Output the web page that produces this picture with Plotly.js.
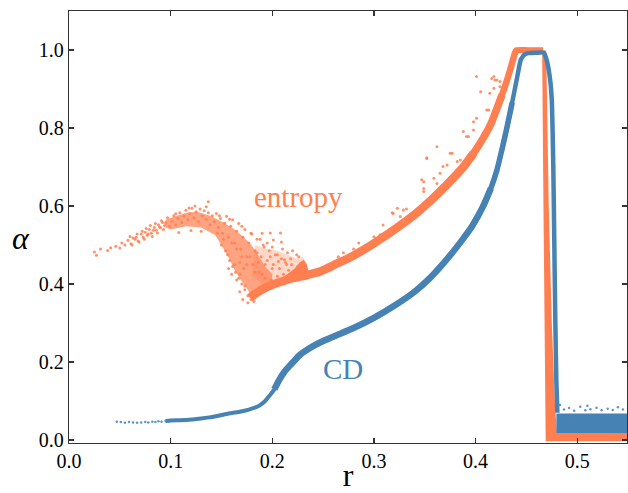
<!DOCTYPE html>
<html><head><meta charset="utf-8">
<script src="https://cdn.plot.ly/plotly-3.0.1.min.js"></script>
<style>
html,body{margin:0;padding:0;background:#fff}
#chart{width:628px;height:493px}
#chart text{font-family:'Liberation Serif','Times New Roman',serif !important}
</style>
</head><body><div id="chart"></div>
<script>
// ---------- data ----------
// entropy: main band (lower, middle and upper parts)
const entBandR = [0.178,0.185,0.193,0.200,0.210,0.220,0.230,0.237,0.247,0.260,0.275,0.290,0.305,0.323,0.340,0.355,0.370,0.388,0.398];
const entBandA = [0.365,0.378,0.390,0.398,0.407,0.415,0.420,0.425,0.432,0.448,0.466,0.488,0.513,0.545,0.578,0.612,0.650,0.700,0.735];
const entMidR = [0.388,0.398,0.407,0.415,0.421,0.426];
const entMidA = [0.700,0.735,0.772,0.810,0.850,0.885];
const entUpR = [0.415,0.421,0.426,0.431,0.435,0.4385,0.440,0.452,0.4665];
const entUpA = [0.810,0.850,0.885,0.923,0.958,0.990,0.999,0.999,0.999];
// entropy: drop and floor (outline of the dense region)
const entDropR = [0.4655,0.4695,0.4720,0.4750,0.4780,0.4800,0.549,0.549,0.4690,0.4680,0.4668];
const entDropA = [0.999,0.999,0.600,0.300,0.100,0.018,0.018,-0.003,-0.003,0.300,0.600];
// entropy: dense cloud (outline)
const entCloudR = [0.095,0.105,0.115,0.126,0.139,0.152,0.163,0.172,0.180,0.187,0.193,0.200,0.200,0.190,0.180,0.176,0.169,0.163,0.157,0.151,0.144,0.130,0.115,0.100,0.095];
const entCloudA = [0.565,0.575,0.583,0.585,0.575,0.558,0.540,0.520,0.498,0.470,0.445,0.425,0.400,0.387,0.367,0.385,0.410,0.436,0.468,0.495,0.525,0.545,0.548,0.540,0.545];
// entropy: thinner cloud (outline)
const entHazeR = [0.183,0.195,0.205,0.215,0.225,0.230,0.235,0.220,0.205,0.190,0.180];
const entHazeA = [0.500,0.490,0.485,0.475,0.465,0.470,0.440,0.425,0.410,0.400,0.420];
// entropy: bump on the band (outline)
const entSpikeR = [0.212,0.222,0.227,0.231,0.234,0.236,0.236,0.220];
const entSpikeA = [0.420,0.440,0.455,0.462,0.450,0.430,0.418,0.410];
// entropy: scattered points
const entPtsR = [0.025,0.027,0.031,0.038,0.041,0.046,0.050,0.052,0.055,0.058,0.061,0.063,0.066,0.068,0.071,0.073,0.075,0.077,0.079,0.081,0.084,0.086,0.088,0.090,0.092,0.094,
 0.060,0.062,0.065,0.067,0.069,0.072,0.074,0.076,0.078,0.080,0.082,0.083,0.085,0.087,0.089,0.091,0.093,0.095,0.097,0.099,0.101,0.103,0.105,0.107,0.109,0.111,0.113,0.115,0.117,0.119,0.121,0.123,0.125,0.127,0.129,0.131,0.133,0.135,0.137,0.139,0.141,0.143,0.145,0.147,0.149,0.151,0.153,0.155,0.157,0.159,0.161,0.163,0.165,0.167,0.169,0.171,0.173,0.175,0.177,0.179,0.181,0.183,0.185,0.187,0.189,0.191,0.193,0.195,0.197,0.199,0.201,0.203,0.205,0.207,0.209,0.211,0.213,0.216,0.219,0.222,0.225,
 0.150,0.154,0.158,0.161,0.164,0.167,0.170,0.173,0.176,0.179,0.156,0.152,0.146,0.168,
 0.105,0.118,0.124,0.135,0.137,0.130,0.120,0.108,0.148,0.158,0.170,0.180,
 0.190,0.198,0.208,0.201,0.209,0.188,0.195,0.200,0.210,0.215,0.220,0.224,0.205,0.212,0.218,0.226,0.192,0.185,0.198,0.206,0.214,0.186,0.193,0.200,0.183,0.190,0.175,0.170,0.165,0.160,0.178,0.172,0.168,
 0.171,0.176,0.168,0.173,0.165,0.160,0.157,0.182,0.163,
 0.265,0.270,0.280,0.285,
 0.300,0.301,0.306,0.309,0.318,0.319,0.323,0.326,0.329,0.332,0.347,0.349,0.349,0.349,0.352,0.352,0.359,0.362,0.362,0.365,0.368,0.372,0.375,0.377,0.382,0.385,0.388,0.391,0.393,0.398,0.398,0.401,0.401,0.405,0.411,0.413,0.414,0.416,0.418,0.418,0.419,0.421,0.424,0.424];
const entPtsA = [0.482,0.474,0.490,0.486,0.493,0.497,0.492,0.505,0.500,0.512,0.503,0.518,0.520,0.510,0.528,0.520,0.533,0.525,0.540,0.530,0.545,0.538,0.552,0.545,0.558,0.550,
 0.522,0.500,0.515,0.528,0.508,0.535,0.515,0.542,0.528,0.550,0.522,0.538,0.555,0.531,0.546,0.562,0.540,0.557,0.570,0.548,0.561,0.575,0.552,0.568,0.583,0.558,0.574,0.589,0.565,0.580,0.594,0.570,0.585,0.560,0.592,0.575,0.588,0.566,0.583,0.552,0.575,0.560,0.581,0.545,0.568,0.530,0.556,0.574,0.520,0.548,0.565,0.505,0.535,0.555,0.490,0.520,0.540,0.470,0.505,0.530,0.450,0.485,0.515,0.430,0.470,0.500,0.415,0.460,0.485,0.410,0.450,0.475,0.420,0.440,0.465,0.425,0.455,0.435,0.450,0.430,0.445,
 0.500,0.485,0.460,0.445,0.430,0.415,0.400,0.385,0.370,0.360,0.475,0.515,0.530,0.425,
 0.580,0.595,0.600,0.598,0.611,0.535,0.537,0.532,0.575,0.566,0.548,0.528,
 0.530,0.531,0.531,0.513,0.508,0.515,0.505,0.495,0.490,0.480,0.485,0.475,0.475,0.462,0.465,0.470,0.495,0.480,0.470,0.458,0.450,0.455,0.450,0.440,0.430,0.425,0.450,0.470,0.490,0.505,0.470,0.440,0.455,
 0.360,0.352,0.380,0.395,0.410,0.425,0.440,0.355,0.450,
 0.470,0.480,0.490,0.505,
 0.521,0.513,0.526,0.551,0.583,0.581,0.594,0.573,0.590,0.592,0.667,0.645,0.662,0.637,0.722,0.724,0.671,0.752,0.658,0.684,0.701,0.705,0.735,0.735,0.714,0.718,0.791,0.778,0.778,0.816,0.795,0.932,0.825,0.893,0.846,0.846,0.889,0.927,0.932,0.902,0.923,0.923,0.919,0.906];

// CD: sparse left tail and floor noise points
const cdPtsR = [0.047,0.051,0.055,0.059,0.063,0.067,0.071,0.075,0.078,0.082,0.085,0.088,0.091,0.095,0.098,
 0.483,0.487,0.492,0.497,0.503,0.508,0.510,0.513,0.519,0.524,0.530,0.535,0.540,0.545];
const cdPtsA = [0.047,0.046,0.044,0.046,0.045,0.044,0.045,0.046,0.045,0.047,0.046,0.048,0.047,0.049,0.048,
 0.090,0.078,0.082,0.075,0.085,0.076,0.088,0.079,0.083,0.076,0.080,0.077,0.084,0.078];
// CD: lower part of the curve
const cdLowR = [0.095,0.100,0.115,0.130,0.138,0.148,0.157,0.167,0.177,0.187,0.193,0.197,0.202,0.207];
const cdLowA = [0.049,0.050,0.051,0.055,0.058,0.063,0.068,0.072,0.078,0.088,0.100,0.113,0.130,0.155];
// CD: main band
const cdMainR = [0.202,0.207,0.212,0.217,0.222,0.227,0.237,0.247,0.260,0.280,0.300,0.320,0.340,0.355,0.370,0.386,0.397,0.407,0.415];
const cdMainA = [0.130,0.155,0.175,0.190,0.204,0.218,0.236,0.250,0.265,0.287,0.313,0.344,0.380,0.415,0.458,0.510,0.550,0.597,0.645];
const cdMidR = [0.397,0.407,0.415,0.421,0.426,0.431,0.436];
const cdMidA = [0.550,0.597,0.645,0.692,0.745,0.803,0.865];
// CD: upper part, top and drop
const cdTopR = [0.426,0.431,0.436,0.441,0.4445,0.448,0.452,0.460,0.467,0.470,0.4734,0.475,0.4765,0.4775,0.4785,0.4795,0.4805];
const cdTopA = [0.745,0.803,0.865,0.931,0.975,0.988,0.992,0.993,0.993,0.974,0.923,0.872,0.700,0.500,0.300,0.150,0.070];
// CD: floor band (outline)
const cdFloorR = [0.4795,0.549,0.549,0.4795];
const cdFloorA = [0.068,0.068,0.018,0.018];

const xTicks = [0.0,0.1,0.2,0.3,0.4,0.5];
const yTicks = [0.0,0.2,0.4,0.6,0.8,1.0];

// ---------- styles ----------
const ORANGE = '#FF7F50', BLUE = '#4682B4';
const SERIF = 'Liberation Serif';

const traces = [
  {x: entCloudR, y: entCloudA, mode:'lines', fill:'toself', fillcolor:'rgba(255,127,80,0.72)', line:{width:0}, hoverinfo:'skip'},
  {x: entHazeR, y: entHazeA, mode:'lines', fill:'toself', fillcolor:'rgba(255,127,80,0.3)', line:{width:0}, hoverinfo:'skip'},
  {x: entSpikeR, y: entSpikeA, mode:'lines', fill:'toself', fillcolor:ORANGE, line:{width:0}, hoverinfo:'skip'},
  {x: entPtsR, y: entPtsA, mode:'markers', marker:{color:ORANGE, size:3, opacity:0.85}},
  {x: entBandR, y: entBandA, mode:'lines', line:{color:ORANGE, width:8.5, shape:'spline', smoothing:0.6}},
  {x: entMidR, y: entMidA, mode:'lines', line:{color:ORANGE, width:7.5, shape:'spline', smoothing:0.5}},
  {x: entUpR, y: entUpA, mode:'lines', line:{color:ORANGE, width:6.5, shape:'spline', smoothing:0.5}},
  {x: entDropR, y: entDropA, mode:'lines', fill:'toself', fillcolor:ORANGE, line:{width:0}},
  {x: cdPtsR, y: cdPtsA, mode:'markers', marker:{color:BLUE, size:2.5, opacity:0.85}},
  {x: cdLowR, y: cdLowA, mode:'lines', line:{color:BLUE, width:4, shape:'spline', smoothing:0.6}},
  {x: cdMainR, y: cdMainA, mode:'lines', line:{color:BLUE, width:6.5, shape:'spline', smoothing:0.6}},
  {x: cdMidR, y: cdMidA, mode:'lines', line:{color:BLUE, width:5.5, shape:'spline', smoothing:0.5}},
  {x: cdTopR, y: cdTopA, mode:'lines', line:{color:BLUE, width:4.5, shape:'spline', smoothing:0.5}},
  {x: cdFloorR, y: cdFloorA, mode:'lines', fill:'toself', fillcolor:BLUE, line:{width:0}}
];

const layout = {
  width:628, height:493, showlegend:false,
  font:{family:SERIF, size:20, color:'#000'},
  margin:{l:69, r:1, t:11, b:50},
  paper_bgcolor:'#fff', plot_bgcolor:'#fff',
  xaxis:{range:[0,0.549], tickvals:xTicks, tickformat:'.1f',
    showgrid:false, zeroline:false, showline:true, linecolor:'#333', linewidth:1.3,
    mirror:'ticks', ticks:'inside', ticklen:5, tickwidth:1.2, tickcolor:'#333',
    tickfont:{family:SERIF, size:20, color:'#000'},
    title:{text:'r', font:{family:SERIF, size:32, color:'#000'}, standoff:20}},
  yaxis:{range:[-0.0077,1.1], tickvals:yTicks, tickformat:'.1f',
    showgrid:false, zeroline:false, showline:true, linecolor:'#333', linewidth:1.3,
    mirror:'ticks', ticks:'inside', ticklen:5, tickwidth:1.2, tickcolor:'#333',
    tickfont:{family:SERIF, size:20, color:'#000'}},
  annotations:[
    {text:'entropy', x:0.2254, y:0.623, xref:'x', yref:'y', xanchor:'center', yanchor:'middle', showarrow:false, font:{family:SERIF, size:29, color:ORANGE}},
    {text:'CD', x:0.2697, y:0.182, xref:'x', yref:'y', xanchor:'center', yanchor:'middle', showarrow:false, font:{family:SERIF, size:29, color:BLUE}},
    {text:'<i>α</i>', x:-0.086, y:0.517, xref:'paper', yref:'y', xanchor:'center', yanchor:'middle', showarrow:false, font:{family:SERIF, size:32, color:'#000'}}
  ]
};

Plotly.newPlot('chart', traces, layout, {staticPlot:true});
</script></body></html>
